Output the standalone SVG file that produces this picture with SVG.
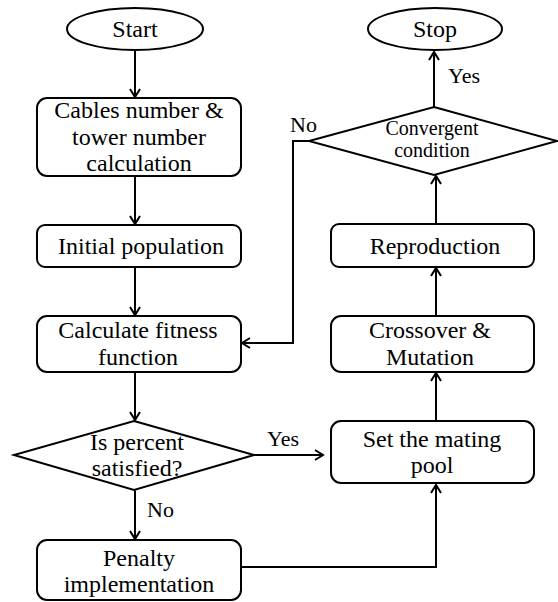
<svg xmlns="http://www.w3.org/2000/svg" width="558" height="602" viewBox="0 0 558 602">
<style>
.s{fill:#fff;stroke:#000;stroke-width:2}
.t{font-family:'Liberation Serif','DejaVu Serif','Times New Roman',Times,serif;font-size:24px;fill:#000;text-anchor:middle}
.m{font-size:20px}
.l{font-family:'Liberation Serif','DejaVu Serif','Times New Roman',Times,serif;font-size:22px;fill:#000}
.c{fill:none;stroke:#000;stroke-width:2}
</style>
<defs>
<marker id="a" markerWidth="12" markerHeight="12" viewBox="-10 -6 12 12" refX="0" refY="0" orient="auto" markerUnits="userSpaceOnUse">
<polyline points="-8,-5 0,0 -8,5" fill="none" stroke="#000" stroke-width="2"/>
</marker>
</defs>
<rect width="558" height="602" fill="#fff"/>
<g id="connectors">
<line class="c" x1="135" y1="50" x2="135" y2="97" marker-end="url(#a)"/>
<line class="c" x1="135" y1="176" x2="135" y2="224" marker-end="url(#a)"/>
<line class="c" x1="135" y1="267" x2="135" y2="315" marker-end="url(#a)"/>
<line class="c" x1="135" y1="372" x2="135" y2="420" marker-end="url(#a)"/>
<line class="c" x1="135" y1="490" x2="135" y2="539" marker-end="url(#a)"/>
<line class="c" x1="254" y1="455" x2="323" y2="455" marker-end="url(#a)"/>
<polyline class="c" points="241,567 436,567 436,485" marker-end="url(#a)"/>
<line class="c" x1="436" y1="421" x2="436" y2="373" marker-end="url(#a)"/>
<line class="c" x1="436" y1="316" x2="436" y2="268" marker-end="url(#a)"/>
<line class="c" x1="436" y1="224" x2="436" y2="176" marker-end="url(#a)"/>
<line class="c" x1="434" y1="107" x2="434" y2="52" marker-end="url(#a)"/>
<polyline class="c" points="309,141 293,141 293,343 242,343" marker-end="url(#a)"/>
<text class="l" x="448" y="83">Yes</text>
<text class="l" x="290" y="132">No</text>
<text class="l" x="267" y="446">Yes</text>
<text class="l" x="147" y="517">No</text>
</g>
<g id="start">
<ellipse class="s" cx="135" cy="29" rx="68" ry="21"/>
<text class="t" x="135" y="37">Start</text>
</g>
<g id="cables">
<rect class="s" x="37" y="98" width="204" height="78" rx="10"/>
<text class="t" x="139" y="118">Cables number &amp;</text>
<text class="t" x="139" y="145">tower number</text>
<text class="t" x="139" y="171">calculation</text>
</g>
<g id="initial">
<rect class="s" x="37" y="225" width="204" height="42" rx="8"/>
<text class="t" x="141" y="254">Initial population</text>
</g>
<g id="fitness">
<rect class="s" x="37" y="316" width="204" height="56" rx="10"/>
<text class="t" x="138" y="338">Calculate fitness</text>
<text class="t" x="138" y="365">function</text>
</g>
<g id="percent">
<polygon class="s" points="134,421 254,455 134,490 14,455"/>
<text class="t" x="137" y="450">Is percent</text>
<text class="t" x="137" y="476">satisfied?</text>
</g>
<g id="penalty">
<rect class="s" x="37" y="540" width="204" height="60" rx="10"/>
<text class="t" x="139" y="566">Penalty</text>
<text class="t" x="139" y="592">implementation</text>
</g>
<g id="mating">
<rect class="s" x="331" y="421" width="203" height="62" rx="10"/>
<text class="t" x="432" y="447">Set the mating</text>
<text class="t" x="432" y="473">pool</text>
</g>
<g id="crossover">
<rect class="s" x="331" y="316" width="203" height="56" rx="10"/>
<text class="t" x="430" y="338">Crossover &amp;</text>
<text class="t" x="430" y="365">Mutation</text>
</g>
<g id="reproduction">
<rect class="s" x="331" y="224" width="203" height="43" rx="8"/>
<text class="t" x="435" y="254">Reproduction</text>
</g>
<g id="convergent">
<polygon class="s" points="434,107 557,141 434,175 309,141"/>
<text class="t m" x="432" y="135">Convergent</text>
<text class="t m" x="432" y="157">condition</text>
</g>
<g id="stop">
<ellipse class="s" cx="435" cy="29" rx="67" ry="21"/>
<text class="t" x="435" y="37">Stop</text>
</g>
</svg>
